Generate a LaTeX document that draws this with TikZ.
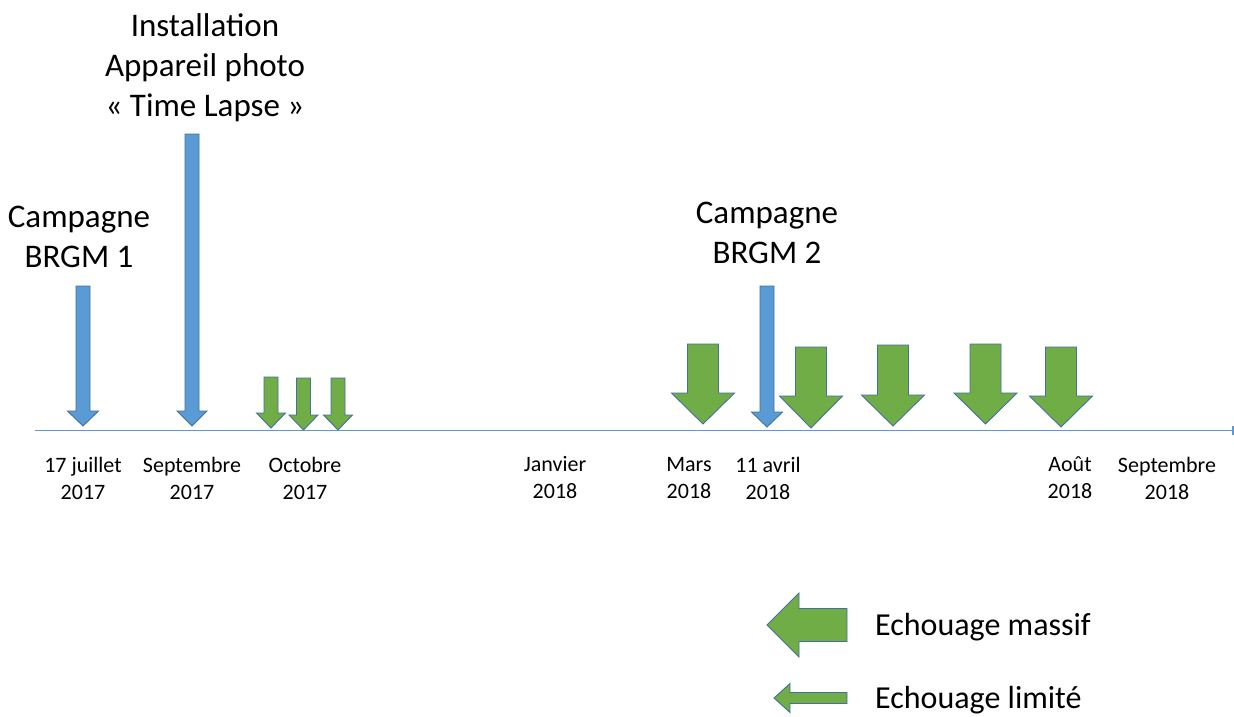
\documentclass[tikz,border=0pt]{standalone}
\usepackage{fontspec}
\setmainfont{Carlito}
\usetikzlibrary{arrows.meta}

\definecolor{evblue}{HTML}{5B9BD5}
\definecolor{evgreen}{HTML}{70AD47}
\definecolor{evedge}{HTML}{41719C}

% block arrow pointing down: style, centre x, top y, tip y, shaft width, head width, head length
\newcommand\DownBlock[7]{%
  \filldraw[#1] ({#2-#5/2},#3) -- ({#2+#5/2},#3) -- ({#2+#5/2},{#4-#7})
    -- ({#2+#6/2},{#4-#7}) -- (#2,#4) -- ({#2-#6/2},{#4-#7})
    -- ({#2-#5/2},{#4-#7}) -- cycle;}
% block arrow pointing left: style, tip x, centre y, tail x, shaft height, head height, head length
\newcommand\LeftBlock[7]{%
  \filldraw[#1] (#4,{#3-#5/2}) -- (#4,{#3+#5/2}) -- ({#2+#7},{#3+#5/2})
    -- ({#2+#7},{#3+#6/2}) -- (#2,#3) -- ({#2+#7},{#3-#6/2})
    -- ({#2+#7},{#3-#5/2}) -- cycle;}

\tikzset{
  campaign/.style={fill=evblue, draw=evedge, line width=0.9pt, line join=miter},
  stranding/.style={fill=evgreen, draw=evedge, line width=0.9pt, line join=miter},
  timeline/.style={draw=evblue, line width=1.4pt},
  biglabel/.style={font=\fontsize{33}{40}\selectfont, align=center, inner sep=0pt},
  datelabel/.style={font=\fontsize{22}{27}\selectfont, align=center, inner sep=0pt},
  legendlabel/.style={font=\fontsize{32}{38}\selectfont, anchor=west, inner sep=0pt},
}

\begin{document}
\begin{tikzpicture}[x=1pt, y=-1pt]
  \useasboundingbox[fill=white] (0,0) rectangle (1234,716);

  % time axis
  \coordinate (axisstart) at (35,430.5);
  \coordinate (axisend) at (1233,430.5);
  \draw[timeline] (axisstart) -- (axisend);
  \draw[timeline] ([yshift=-4.5pt]axisend) -- ([yshift=4.5pt]axisend);

  % field campaigns and camera installation
  \DownBlock{campaign}{83}{286}{426}{14}{31}{15}
  \DownBlock{campaign}{192}{134}{426}{14}{30}{15}
  \DownBlock{campaign}{767}{286}{427}{14}{31}{15}

  % limited strandings (October 2017)
  \DownBlock{stranding}{271}{377}{428}{14}{29}{15}
  \DownBlock{stranding}{303.5}{378}{430}{14}{29}{15}
  \DownBlock{stranding}{338}{378}{430}{14}{29}{15}

  % massive strandings (2018)
  \DownBlock{stranding}{703}{344}{424}{31}{63}{31}
  \DownBlock{stranding}{811}{347}{428}{31}{63}{32}
  \DownBlock{stranding}{893}{345}{426}{31}{63}{31}
  \DownBlock{stranding}{985.5}{344}{424}{31}{63}{31}
  \DownBlock{stranding}{1061}{347}{427}{31}{63}{31}

  % event labels
  \node[biglabel] (brgm1) at (79,237) {Campagne\\BRGM 1};
  \node[biglabel] (camera) at (205,68) {Installation\\Appareil photo\\« Time Lapse »};
  \node[biglabel] (brgm2) at (767,233) {Campagne\\BRGM 2};

  % dates under the axis
  \node[datelabel] (d1) at (83,478) {17 juillet\\2017};
  \node[datelabel] (d2) at (192,478) {Septembre\\2017};
  \node[datelabel] (d3) at (305,478) {Octobre\\2017};
  \node[datelabel] (d4) at (555,478) {Janvier\\2018};
  \node[datelabel] (d5) at (689,478) {Mars\\2018};
  \node[datelabel] (d6) at (768,478) {11 avril\\2018};
  \node[datelabel] (d7) at (1070,478) {Août\\2018};
  \node[datelabel] (d8) at (1167,478) {Septembre\\2018};

  % legend
  \LeftBlock{stranding}{767}{625}{847}{33}{64}{32}
  \LeftBlock{stranding}{774}{698}{847}{11}{29}{16}
  \node[legendlabel] (lgmass) at (875,627) {Echouage massif};
  \node[legendlabel] (lglim) at (875,700) {Echouage limité};
\end{tikzpicture}
\end{document}
